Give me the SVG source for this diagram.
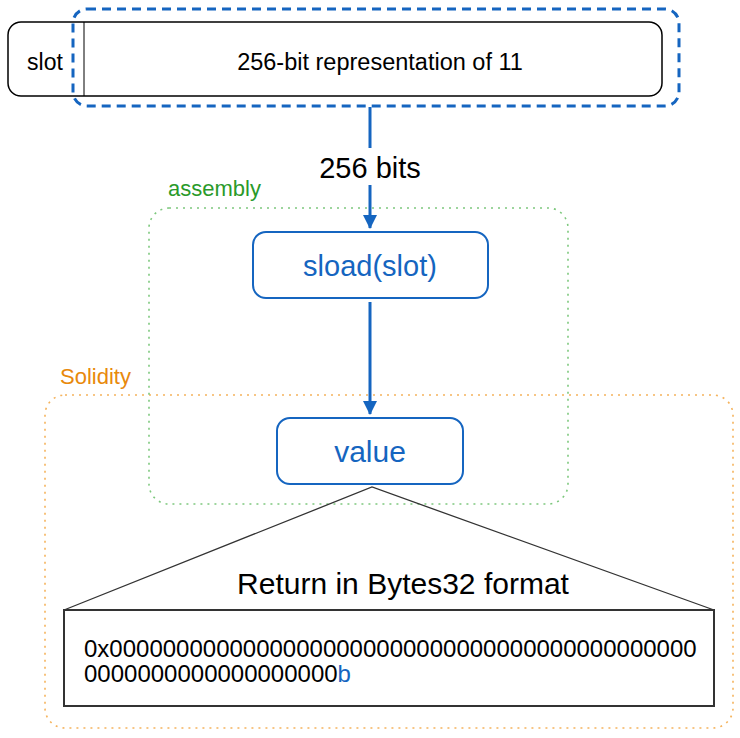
<svg xmlns="http://www.w3.org/2000/svg" width="740" height="738" viewBox="0 0 740 738">
<style>
text{font-family:"Liberation Sans",Arial,sans-serif}
.blk{fill:#000}
.blue{fill:#1565c0}
.node{fill:#fff;stroke:#1565c0;stroke-width:2}
.conn{stroke:#1565c0;stroke-width:3;fill:none}
</style>
<defs>
<marker id="ah" viewBox="0 0 14 14" refX="13" refY="7" markerWidth="14" markerHeight="14" markerUnits="userSpaceOnUse" orient="auto">
<path d="M0,0 L14,7 L0,14 z" fill="#1565c0"/>
</marker>
</defs>
<rect width="740" height="738" fill="#fff"/>

<g id="solidity-group">
<rect x="45" y="395" width="688" height="333" rx="20" fill="none" stroke="#f5b35c" stroke-width="1.6" stroke-dasharray="2 5"/>
<text x="60" y="384" font-size="22" fill="#e8890c">Solidity</text>
</g>

<g id="assembly-group">
<rect x="149" y="208" width="419" height="296" rx="20" fill="none" stroke="#7dc87d" stroke-width="1.6" stroke-dasharray="2 5"/>
<text x="168" y="196" font-size="22" fill="#2a9a2a">assembly</text>
</g>

<g id="storage">
<rect x="8" y="22" width="654" height="74" rx="13" fill="#fff" stroke="#000" stroke-width="1.5"/>
<line x1="84" y1="22" x2="84" y2="96" stroke="#000" stroke-width="1"/>
<text x="45" y="70" font-size="23" text-anchor="middle" class="blk">slot</text>
<text x="380" y="70" font-size="23.5" text-anchor="middle" class="blk">256-bit representation of 11</text>
<rect x="73" y="9" width="606" height="97" rx="14" fill="none" stroke="#1565c0" stroke-width="3" stroke-dasharray="9 6"/>
</g>

<g id="connectors">
<line class="conn" x1="370" y1="107" x2="370" y2="148"/>
<line class="conn" x1="370" y1="185" x2="370" y2="228" marker-end="url(#ah)"/>
<line class="conn" x1="370" y1="302" x2="370" y2="414" marker-end="url(#ah)"/>
<text x="370" y="178" font-size="29" text-anchor="middle" class="blk">256 bits</text>
<polyline points="64,610 372,487 714,610" fill="none" stroke="#333" stroke-width="1.3"/>
</g>

<g id="sload">
<rect class="node" x="253" y="232" width="235" height="66" rx="13"/>
<text x="370" y="276" font-size="29" text-anchor="middle" class="blue">sload(slot)</text>
</g>

<g id="value">
<rect class="node" x="277" y="418" width="186" height="66" rx="13"/>
<text x="370" y="462" font-size="30" text-anchor="middle" class="blue">value</text>
</g>

<g id="bytes32">
<text x="403" y="594" font-size="30" text-anchor="middle" class="blk">Return in Bytes32 format</text>
<rect x="64" y="610" width="650" height="96" fill="#fff" stroke="#333" stroke-width="2"/>
<text x="84" y="657" font-size="24" class="blk">0x00000000000000000000000000000000000000000000</text>
<text x="84" y="682" font-size="24" class="blk">0000000000000000000<tspan class="blue">b</tspan></text>
</g>
</svg>
